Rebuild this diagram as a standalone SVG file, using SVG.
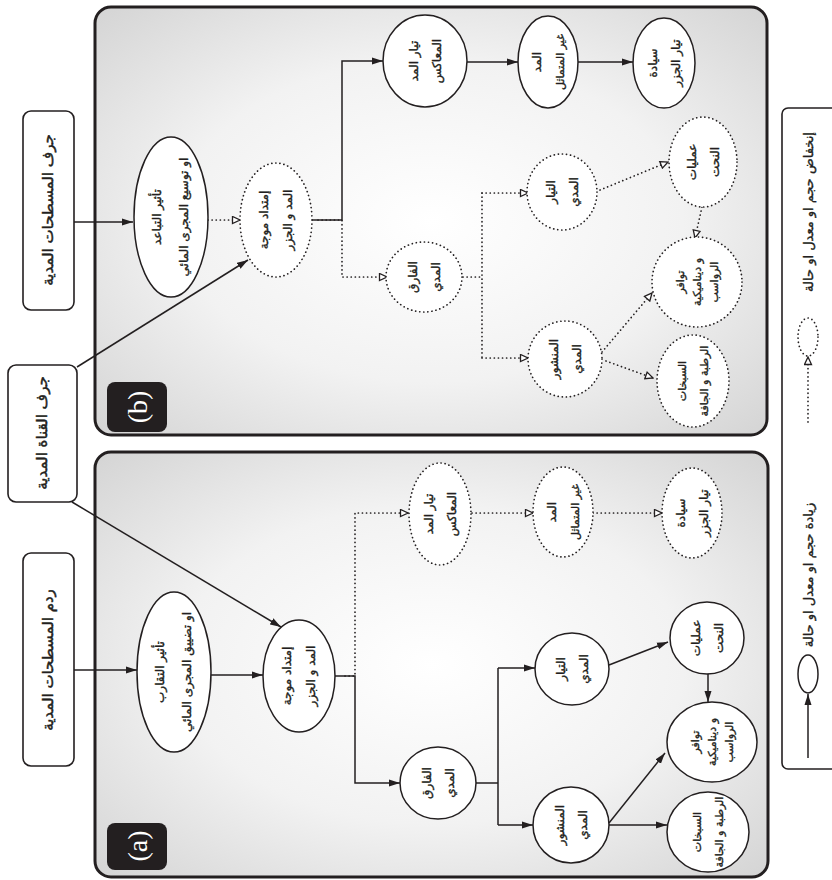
<svg xmlns="http://www.w3.org/2000/svg" width="832" height="880" viewBox="0 0 832 880">
<defs>
<radialGradient id="pg" cx="50%" cy="50%" r="75%">
<stop offset="0" stop-color="#ffffff"/>
<stop offset="0.5" stop-color="#f2f2f2"/>
<stop offset="1" stop-color="#d0d0d0"/>
</radialGradient>
<marker id="ah" markerUnits="userSpaceOnUse" markerWidth="11" markerHeight="8" refX="11" refY="4" orient="auto">
<path d="M0,0.5 L11,4 L0,7.5 z" fill="#231f20"/>
</marker>
<marker id="ao" markerUnits="userSpaceOnUse" markerWidth="10" markerHeight="9" refX="9" refY="4.5" orient="auto">
<path d="M1.5,1 L9,4.5 L1.5,8 z" fill="#fff" stroke="#231f20" stroke-width="1.3"/>
</marker>
</defs>
<style>
.panel{fill:url(#pg);stroke:#231f20;stroke-width:3}
.box{fill:#fff;stroke:#231f20;stroke-width:1.6}
.n{fill:#fff;stroke:#231f20;stroke-width:1.5}
.nd{fill:#fff;stroke:#231f20;stroke-width:1.7;stroke-dasharray:0.1 4;stroke-linecap:round}
.c{fill:none;stroke:#231f20;stroke-width:1.5;marker-end:url(#ah)}
.cn{fill:none;stroke:#231f20;stroke-width:1.5}
.cd{fill:none;stroke:#231f20;stroke-width:1.7;stroke-dasharray:0.1 4;stroke-linecap:round;marker-end:url(#ao)}
.cdn{fill:none;stroke:#231f20;stroke-width:1.7;stroke-dasharray:0.1 4;stroke-linecap:round}
.t{font-family:"DejaVu Sans",sans-serif;font-size:12px;text-anchor:middle;dominant-baseline:central;fill:#231f20;stroke:#231f20;stroke-width:0.35}
.ts{font-size:11px}
.tl{font-size:13px}
.tb{font-family:"DejaVu Sans",sans-serif;font-size:15px;text-anchor:middle;dominant-baseline:central;fill:#231f20;stroke:#231f20;stroke-width:0.45}
.lab{fill:#231f20}
.lt{font-family:"Liberation Serif",serif;font-size:28px;text-anchor:middle;dominant-baseline:central;fill:#fff}
</style>

<g id="panel-a">
<rect class="panel" x="95" y="452" width="673" height="425" rx="16"/>
<rect class="lab" x="107" y="823" width="60" height="47" rx="8"/>
<text class="lt" x="137" y="846" transform="rotate(-90 137 846)">(a)</text>
</g>
<g id="panel-b">
<rect class="panel" x="95" y="7" width="672" height="428" rx="16"/>
<rect class="lab" x="107" y="382" width="60" height="50" rx="8"/>
<text class="lt" x="137" y="407" transform="rotate(-90 137 407)">(b)</text>
</g>

<g id="connectors">
<line class="c" x1="74" y1="670" x2="137" y2="670"/>
<line class="c" x1="74" y1="222" x2="133" y2="222"/>
<line class="c" x1="72" y1="502" x2="281" y2="627"/>
<line class="c" x1="77" y1="367" x2="248" y2="260"/>
<line class="c" x1="211" y1="675" x2="263" y2="675"/>
<path class="c" d="M335,676 H355 V783 H400"/>
<path class="cd" d="M345,676 H355 V513 H408"/>
<line class="cd" x1="472" y1="513" x2="533" y2="513"/>
<line class="cd" x1="593" y1="513" x2="662" y2="513"/>
<path class="cn" d="M476,783 H498 M498,668 V825"/>
<line class="c" x1="498" y1="668" x2="535" y2="668"/>
<line class="c" x1="498" y1="825" x2="533" y2="825"/>
<line class="c" x1="609" y1="665" x2="668" y2="642"/>
<line class="c" x1="708" y1="673" x2="708" y2="702"/>
<line class="c" x1="609" y1="825" x2="667" y2="825"/>
<line class="c" x1="609" y1="823" x2="665" y2="753"/>
<line class="cd" x1="208" y1="220" x2="240" y2="220"/>
<path class="c" d="M312,220 H342 V61 H383"/>
<path class="cd" d="M318,220 H342 V277 H387"/>
<line class="c" x1="467" y1="62" x2="518" y2="62"/>
<line class="c" x1="578" y1="62" x2="633" y2="62"/>
<path class="cdn" d="M463,277 H482 M482,193 V358"/>
<line class="cd" x1="482" y1="193" x2="528" y2="193"/>
<line class="cd" x1="482" y1="358" x2="528" y2="358"/>
<line class="cd" x1="600" y1="190" x2="668" y2="162"/>
<line class="cd" x1="702" y1="207" x2="695" y2="238"/>
<line class="cd" x1="602" y1="352" x2="652" y2="293"/>
<line class="cd" x1="606" y1="361" x2="653" y2="378"/>
</g>

<g id="box-fill-a">
<rect class="box" x="23" y="553" width="51" height="213" rx="8"/>
<text class="tb" x="48" y="660" transform="rotate(-90 48 660)">ردم المسطحات المدية</text>
</g>
<g id="box-fill-b">
<rect class="box" x="23" y="111" width="51" height="199" rx="8"/>
<text class="tb" x="48" y="210" transform="rotate(-90 48 210)">جرف المسطحات المدية</text>
</g>
<g id="box-channel">
<rect class="box" x="8" y="365" width="69" height="137" rx="8"/>
<text class="tb" x="42" y="433" transform="rotate(-90 42 433)">جرف القناة المدية</text>
</g>

<g id="a-convergence">
<ellipse class="n" cx="174" cy="672" rx="37" ry="80"/>
<text class="t" x="160" y="672" transform="rotate(-90 160 672)">تأثير التقارب</text>
<text class="t" x="187" y="672" transform="rotate(-90 187 672)">او تضييق المجرى المائي</text>
</g>
<g id="a-propagation">
<ellipse class="n" cx="299" cy="676" rx="36" ry="56"/>
<text class="t" x="287" y="676" transform="rotate(-90 287 676)">إمتداد موجة</text>
<text class="t" x="311" y="676" transform="rotate(-90 311 676)">المد و الجزر</text>
</g>
<g id="a-counter">
<ellipse class="nd" cx="440" cy="514" rx="31" ry="51"/>
<text class="t" x="429" y="514" transform="rotate(-90 429 514)">تيار المد</text>
<text class="t" x="452" y="514" transform="rotate(-90 452 514)">المعاكس</text>
</g>
<g id="a-asym">
<ellipse class="nd" cx="563" cy="512" rx="30" ry="45"/>
<text class="t" x="552" y="512" transform="rotate(-90 552 512)">المد</text>
<text class="t ts" x="575" y="512" transform="rotate(-90 575 512)">غير المتماثل</text>
</g>
<g id="a-ebb">
<ellipse class="nd" cx="692" cy="513" rx="30" ry="45"/>
<text class="t" x="681" y="513" transform="rotate(-90 681 513)">سيادة</text>
<text class="t" x="704" y="513" transform="rotate(-90 704 513)">تيار الجزر</text>
</g>
<g id="a-range">
<ellipse class="n" cx="438" cy="783" rx="38" ry="36"/>
<text class="t" x="427" y="783" transform="rotate(-90 427 783)">الفارق</text>
<text class="t" x="450" y="783" transform="rotate(-90 450 783)">المدي</text>
</g>
<g id="a-current">
<ellipse class="n" cx="572" cy="669" rx="37" ry="36"/>
<text class="t" x="561" y="669" transform="rotate(-90 561 669)">التيار</text>
<text class="t" x="584" y="669" transform="rotate(-90 584 669)">المدي</text>
</g>
<g id="a-prism">
<ellipse class="n" cx="571" cy="825" rx="38" ry="38"/>
<text class="t" x="560" y="825" transform="rotate(-90 560 825)">المنشور</text>
<text class="t" x="583" y="825" transform="rotate(-90 583 825)">المدي</text>
</g>
<g id="a-erosion">
<ellipse class="n" cx="707" cy="638" rx="37" ry="36"/>
<text class="t" x="696" y="638" transform="rotate(-90 696 638)">عمليات</text>
<text class="t" x="719" y="638" transform="rotate(-90 719 638)">النحت</text>
</g>
<g id="a-sediment">
<ellipse class="n" cx="712" cy="742" rx="45" ry="40"/>
<text class="t ts" x="695" y="742" transform="rotate(-90 695 742)">توافر</text>
<text class="t ts" x="712" y="742" transform="rotate(-90 712 742)">و ديناميكية</text>
<text class="t ts" x="729" y="742" transform="rotate(-90 729 742)">الرواسب</text>
</g>
<g id="a-marsh">
<ellipse class="n" cx="708" cy="832" rx="41" ry="40"/>
<text class="t ts" x="697" y="832" transform="rotate(-90 697 832)">السبخات</text>
<text class="t ts" x="719" y="832" transform="rotate(-90 719 832)">الرطبة و الجافة</text>
</g>

<g id="b-divergence">
<ellipse class="n" cx="171" cy="217" rx="37" ry="80"/>
<text class="t" x="157" y="217" transform="rotate(-90 157 217)">تأثير التباعد</text>
<text class="t" x="184" y="217" transform="rotate(-90 184 217)">او توسيع المجرى المائي</text>
</g>
<g id="b-propagation">
<ellipse class="nd" cx="276" cy="220" rx="36" ry="57"/>
<text class="t" x="264" y="220" transform="rotate(-90 264 220)">إمتداد موجة</text>
<text class="t" x="288" y="220" transform="rotate(-90 288 220)">المد و الجزر</text>
</g>
<g id="b-counter">
<ellipse class="n" cx="425" cy="61" rx="42" ry="46"/>
<text class="t" x="414" y="61" transform="rotate(-90 414 61)">تيار المد</text>
<text class="t" x="437" y="61" transform="rotate(-90 437 61)">المعاكس</text>
</g>
<g id="b-asym">
<ellipse class="n" cx="548" cy="62" rx="30" ry="46"/>
<text class="t" x="537" y="62" transform="rotate(-90 537 62)">المد</text>
<text class="t ts" x="560" y="62" transform="rotate(-90 560 62)">غير المتماثل</text>
</g>
<g id="b-ebb">
<ellipse class="n" cx="664" cy="63" rx="31" ry="45"/>
<text class="t" x="653" y="63" transform="rotate(-90 653 63)">سيادة</text>
<text class="t" x="676" y="63" transform="rotate(-90 676 63)">تيار الجزر</text>
</g>
<g id="b-range">
<ellipse class="nd" cx="424" cy="277" rx="38" ry="35"/>
<text class="t" x="413" y="277" transform="rotate(-90 413 277)">الفارق</text>
<text class="t" x="436" y="277" transform="rotate(-90 436 277)">المدي</text>
</g>
<g id="b-current">
<ellipse class="nd" cx="562" cy="192" rx="35" ry="38"/>
<text class="t" x="551" y="192" transform="rotate(-90 551 192)">التيار</text>
<text class="t" x="574" y="192" transform="rotate(-90 574 192)">المدي</text>
</g>
<g id="b-prism">
<ellipse class="nd" cx="565" cy="359" rx="37" ry="38"/>
<text class="t" x="554" y="359" transform="rotate(-90 554 359)">المنشور</text>
<text class="t" x="577" y="359" transform="rotate(-90 577 359)">المدي</text>
</g>
<g id="b-erosion">
<ellipse class="nd" cx="703" cy="162" rx="34" ry="45"/>
<text class="t" x="692" y="162" transform="rotate(-90 692 162)">عمليات</text>
<text class="t" x="715" y="162" transform="rotate(-90 715 162)">النحت</text>
</g>
<g id="b-sediment">
<ellipse class="nd" cx="697" cy="282" rx="45" ry="45"/>
<text class="t ts" x="680" y="282" transform="rotate(-90 680 282)">توافر</text>
<text class="t ts" x="697" y="282" transform="rotate(-90 697 282)">و ديناميكية</text>
<text class="t ts" x="714" y="282" transform="rotate(-90 714 282)">الرواسب</text>
</g>
<g id="b-marsh">
<ellipse class="nd" cx="693" cy="381" rx="36" ry="46"/>
<text class="t ts" x="682" y="381" transform="rotate(-90 682 381)">السبخات</text>
<text class="t ts" x="704" y="381" transform="rotate(-90 704 381)">الرطبة و الجافة</text>
</g>

<g id="legend">
<rect class="box" x="782" y="108" width="80" height="661" rx="6" stroke-width="2"/>
<line class="c" x1="808" y1="758" x2="808" y2="694"/>
<ellipse class="n" cx="808" cy="674" rx="10" ry="19"/>
<text class="t tl" x="808" y="575" transform="rotate(-90 808 575)">زيادة حجم او معدل او حالة</text>
<line class="cd" x1="808" y1="422" x2="808" y2="357"/>
<ellipse class="nd" cx="808" cy="337" rx="10" ry="19"/>
<text class="t tl" x="808" y="212" transform="rotate(-90 808 212)">إنخفاض حجم او معدل او حالة</text>
</g>
</svg>
